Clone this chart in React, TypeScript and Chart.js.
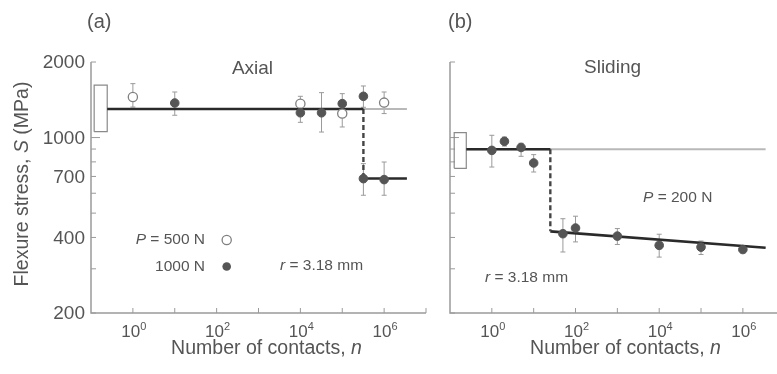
import React, { useEffect, useRef } from "react";
import { Chart, registerables } from "chart.js";

Chart.register(...registerables);

// ---------- Panel (a): Axial ----------
const aOpenN = [1, 1e4, 1e5, 1e6];
const aOpenS = [1450, 1365, 1246, 1378];
const aOpenLo = [1323, 1290, 1102, 1246];
const aOpenHi = [1640, 1460, 1390, 1519];

const aFillN = [10, 1e4, 3.2e4, 1e5, 3.2e5, 3.2e5, 1e6];
const aFillS = [1373, 1255, 1255, 1365, 1460, 686, 680];
const aFillLo = [1227, 1150, 1052, 1250, 1320, 589, 589];
const aFillHi = [1519, 1360, 1510, 1496, 1605, 787, 799];

const aBoxN = [0.119, 0.244];
const aBoxS = [1055, 1619];
const aLevel = 1300;
const aLow = 687;
const aDropN = 3.2e5;
const aEndN = 3.5e6;

// ---------- Panel (b): Sliding ----------
const bN = [1, 2, 5, 10, 50, 100, 1e3, 1e4, 1e5, 1e6];
const bS = [889, 966, 913, 792, 414, 436, 405, 372, 366, 358];
const bLo = [763, 925, 842, 729, 350, 384, 375, 334, 342, 347];
const bHi = [1021, 1005, 949, 855, 475, 486, 434, 412, 387, 371];

const bBoxN = [0.126, 0.245];
const bBoxS = [754, 1046];
const bLevel = 898;
const bDropN = 25;
const bLowStart = 423;
const bLowEnd = 364;
const bEndN = 3.5e6;

// ---------- Axes ----------
const yMin = 200;
const yMax = 2000;
const xMin = 0.1;
const xMax = 1e7;
const yTickValues = [200, 300, 400, 500, 600, 700, 800, 900, 1000, 2000];
const yTickLabels = [200, 400, 700, 1000, 2000];
const xTickExps = [0, 1, 2, 3, 4, 5, 6, 7];
const xLabelExps = [0, 2, 4, 6];

const FAM = '"Liberation Sans", Arial, Helvetica, sans-serif';
const TEXT = "#555";
const AXIS = "#9a9a9a";
const DARK = "#2a2a2a";
const GREY_LINE = "#b8b8b8";
const MARK = "#555";
const ERR = "#9a9a9a";

type Part = { t: string; it?: boolean };
type TextItem = { parts: Part[]; x: number; y: number; size: number; align: "left" | "right" | "center" };

function drawParts(ctx: CanvasRenderingContext2D, parts: Part[], x: number, y: number, size: number, align: string) {
  const fonts = parts.map((p) => `${p.it ? "italic " : ""}${size}px ${FAM}`);
  const widths = parts.map((p, i) => {
    ctx.font = fonts[i];
    return ctx.measureText(p.t).width;
  });
  const total = widths.reduce((a, b) => a + b, 0);
  let cx = align === "left" ? x : align === "right" ? x - total : x - total / 2;
  ctx.textAlign = "left";
  ctx.textBaseline = "middle";
  parts.forEach((p, i) => {
    ctx.font = fonts[i];
    ctx.fillText(p.t, cx, y);
    cx += widths[i];
  });
}

function pts(xs: number[], ys: number[]) {
  return xs.map((x, i) => ({ x, y: ys[i] }));
}

function lineDs(data: { x: number; y: number }[], color: string, width: number, order: number, dash: number[] = []) {
  return {
    data,
    showLine: true,
    borderColor: color,
    borderWidth: width,
    borderDash: dash,
    pointRadius: 0,
    fill: false,
    tension: 0,
    order,
  };
}

function boxDs(n: number[], s: number[]) {
  return lineDs(
    [
      { x: n[0], y: s[0] },
      { x: n[1], y: s[0] },
      { x: n[1], y: s[1] },
      { x: n[0], y: s[1] },
      { x: n[0], y: s[0] },
    ],
    "#8a8a8a",
    1.2,
    5
  );
}

function pointDs(xs: number[], ys: number[], open: boolean, order: number) {
  return {
    data: pts(xs, ys),
    showLine: false,
    pointRadius: open ? 4.6 : 4.3,
    pointBackgroundColor: open ? "#ffffff" : MARK,
    pointBorderColor: open ? "#808080" : MARK,
    pointBorderWidth: open ? 1.3 : 1,
    order,
  };
}

type Spec = {
  offsetX: number;
  showYLabels: boolean;
  errN: number[];
  errLo: number[];
  errHi: number[];
  texts: TextItem[];
  legend: { x: number; y: number; open: boolean }[];
  yTitle: boolean;
};

function decorPlugin(spec: Spec) {
  return {
    id: "decor",
    beforeDatasetsDraw(chart: any) {
      const ctx: CanvasRenderingContext2D = chart.ctx;
      const xs = chart.scales.x;
      const ys = chart.scales.y;
      const ca = chart.chartArea;
      ctx.save();
      ctx.strokeStyle = AXIS;
      ctx.lineWidth = 1.5;
      ctx.beginPath();
      ctx.moveTo(ca.left, ca.top);
      ctx.lineTo(ca.left, ca.bottom);
      ctx.lineTo(ca.right, ca.bottom);
      ctx.stroke();
      ctx.lineWidth = 1;
      ctx.beginPath();
      yTickValues.forEach((v) => {
        const y = ys.getPixelForValue(v);
        const len = v === 1000 ? 9 : 5;
        ctx.moveTo(ca.left, y);
        ctx.lineTo(ca.left + len, y);
      });
      xTickExps.forEach((e) => {
        const x = xs.getPixelForValue(Math.pow(10, e));
        if (x <= ca.right + 0.5) {
          ctx.moveTo(x, ca.bottom);
          ctx.lineTo(x, ca.bottom - 5);
        }
      });
      ctx.stroke();
      // error bars
      ctx.strokeStyle = ERR;
      ctx.lineWidth = 1;
      ctx.beginPath();
      spec.errN.forEach((n, i) => {
        const x = xs.getPixelForValue(n);
        const y1 = ys.getPixelForValue(spec.errLo[i]);
        const y2 = ys.getPixelForValue(spec.errHi[i]);
        ctx.moveTo(x, y1);
        ctx.lineTo(x, y2);
        ctx.moveTo(x - 2.5, y1);
        ctx.lineTo(x + 2.5, y1);
        ctx.moveTo(x - 2.5, y2);
        ctx.lineTo(x + 2.5, y2);
      });
      ctx.stroke();
      ctx.restore();
    },
    afterDraw(chart: any) {
      const ctx: CanvasRenderingContext2D = chart.ctx;
      const xs = chart.scales.x;
      const ys = chart.scales.y;
      const ca = chart.chartArea;
      const ox = spec.offsetX;
      ctx.save();
      ctx.fillStyle = TEXT;
      // y tick labels
      if (spec.showYLabels) {
        ctx.font = `19px ${FAM}`;
        ctx.textAlign = "right";
        ctx.textBaseline = "middle";
        yTickLabels.forEach((v) => {
          ctx.fillText(String(v), ca.left - 6, ys.getPixelForValue(v) + 1);
        });
      }
      // x tick labels 10^n
      xLabelExps.forEach((e) => {
        const x = xs.getPixelForValue(Math.pow(10, e));
        ctx.font = `17px ${FAM}`;
        const wb = ctx.measureText("10").width;
        ctx.font = `11px ${FAM}`;
        const we = ctx.measureText(String(e)).width;
        const start = x + 1 - (wb + we) / 2;
        ctx.textAlign = "left";
        ctx.textBaseline = "alphabetic";
        ctx.font = `17px ${FAM}`;
        ctx.fillText("10", start, ca.bottom + 24);
        ctx.font = `11px ${FAM}`;
        ctx.fillText(String(e), start + wb, ca.bottom + 17);
      });
      // texts
      spec.texts.forEach((t) => drawParts(ctx, t.parts, t.x - ox, t.y, t.size, t.align));
      // legend glyphs
      spec.legend.forEach((l) => {
        ctx.beginPath();
        ctx.arc(l.x - ox, l.y, l.open ? 4.6 : 4.3, 0, Math.PI * 2);
        if (l.open) {
          ctx.fillStyle = "#fff";
          ctx.fill();
          ctx.strokeStyle = "#808080";
          ctx.lineWidth = 1.3;
          ctx.stroke();
        } else {
          ctx.fillStyle = MARK;
          ctx.fill();
        }
        ctx.fillStyle = TEXT;
      });
      if (spec.yTitle) {
        ctx.save();
        ctx.translate(23 - ox, 184);
        ctx.rotate(-Math.PI / 2);
        drawParts(ctx, [{ t: "Flexure stress, " }, { t: "S", it: true }, { t: " (MPa)" }], 0, 0, 19.5, "center");
        ctx.restore();
      }
      ctx.restore();
    },
  };
}

const specA: Spec = {
  offsetX: 0,
  showYLabels: true,
  errN: [...aOpenN, ...aFillN],
  errLo: [...aOpenLo, ...aFillLo],
  errHi: [...aOpenHi, ...aFillHi],
  texts: [
    { parts: [{ t: "(a)" }], x: 87, y: 22, size: 20, align: "left" },
    { parts: [{ t: "Axial" }], x: 252.5, y: 69, size: 19, align: "center" },
    { parts: [{ t: "P", it: true }, { t: " = 500 N" }], x: 205, y: 240, size: 15.5, align: "right" },
    { parts: [{ t: "1000 N" }], x: 205, y: 266.5, size: 15.5, align: "right" },
    { parts: [{ t: "r", it: true }, { t: " = 3.18 mm" }], x: 280, y: 266, size: 15.5, align: "left" },
    { parts: [{ t: "Number of contacts, " }, { t: "n", it: true }], x: 266.5, y: 349, size: 19.5, align: "center" },
  ],
  legend: [
    { x: 226.7, y: 240, open: true },
    { x: 226.7, y: 266.5, open: false },
  ],
  yTitle: true,
};

const specB: Spec = {
  offsetX: 440,
  showYLabels: false,
  errN: bN,
  errLo: bLo,
  errHi: bHi,
  texts: [
    { parts: [{ t: "(b)" }], x: 448, y: 22, size: 20, align: "left" },
    { parts: [{ t: "Sliding" }], x: 612.5, y: 68, size: 19, align: "center" },
    { parts: [{ t: "P", it: true }, { t: " = 200 N" }], x: 643, y: 198, size: 15.5, align: "left" },
    { parts: [{ t: "r", it: true }, { t: " = 3.18 mm" }], x: 485, y: 278, size: 15.5, align: "left" },
    { parts: [{ t: "Number of contacts, " }, { t: "n", it: true }], x: 625.5, y: 349, size: 19.5, align: "center" },
  ],
  legend: [],
  yTitle: false,
};

function datasetsA() {
  return [
    pointDs(aFillN, aFillS, false, 1),
    pointDs(aOpenN, aOpenS, true, 2),
    lineDs([{ x: aBoxN[1], y: aLevel }, { x: aDropN, y: aLevel }], DARK, 2.6, 3),
    lineDs([{ x: aDropN, y: aLevel }, { x: aDropN, y: aLow }], "#444", 2.4, 3, [5, 3]),
    lineDs([{ x: aDropN, y: aLow }, { x: aEndN, y: aLow }], DARK, 2.6, 3),
    boxDs(aBoxN, aBoxS),
    lineDs([{ x: aBoxN[1], y: aLevel }, { x: aEndN, y: aLevel }], GREY_LINE, 2, 6),
  ];
}

function datasetsB() {
  return [
    pointDs(bN, bS, false, 1),
    lineDs([{ x: bBoxN[1], y: bLevel }, { x: bDropN, y: bLevel }], DARK, 2.6, 3),
    lineDs([{ x: bDropN, y: bLevel }, { x: bDropN, y: bLowStart }], "#444", 2.4, 3, [5, 3]),
    lineDs([{ x: bDropN, y: bLowStart }, { x: bEndN, y: bLowEnd }], DARK, 2.6, 3),
    boxDs(bBoxN, bBoxS),
    lineDs([{ x: bBoxN[1], y: bLevel }, { x: bEndN, y: bLevel }], GREY_LINE, 2, 6),
  ];
}

function Panel(props: { spec: Spec; left: number; width: number; padding: any; datasets: () => any[] }) {
  const ref = useRef<HTMLCanvasElement>(null);
  useEffect(() => {
    const chart = new Chart(ref.current as HTMLCanvasElement, {
      type: "scatter",
      data: { datasets: props.datasets() as any },
      options: {
        responsive: false,
        maintainAspectRatio: false,
        animation: false,
        events: [],
        layout: { padding: props.padding },
        plugins: { legend: { display: false }, tooltip: { enabled: false } },
        scales: {
          x: { type: "logarithmic", min: xMin, max: xMax, display: false },
          y: { type: "logarithmic", min: yMin, max: yMax, display: false },
        },
      },
      plugins: [decorPlugin(props.spec) as any],
    });
    return () => chart.destroy();
  }, []);
  return (
    <canvas
      ref={ref}
      width={props.width}
      height={374}
      style={{ position: "absolute", left: props.left, top: 0, width: props.width, height: 374 }}
    />
  );
}

export default function App() {
  return (
    <div
      style={{
        position: "fixed",
        left: 0,
        top: 0,
        width: 777,
        height: 374,
        overflow: "hidden",
        background: "#fff",
      }}
    >
      <Panel spec={specA} left={0} width={440} padding={{ left: 91, right: 14, top: 62, bottom: 61 }} datasets={datasetsA} />
      <Panel spec={specB} left={440} width={350} padding={{ left: 10, right: 4, top: 62, bottom: 61 }} datasets={datasetsB} />
    </div>
  );
}
